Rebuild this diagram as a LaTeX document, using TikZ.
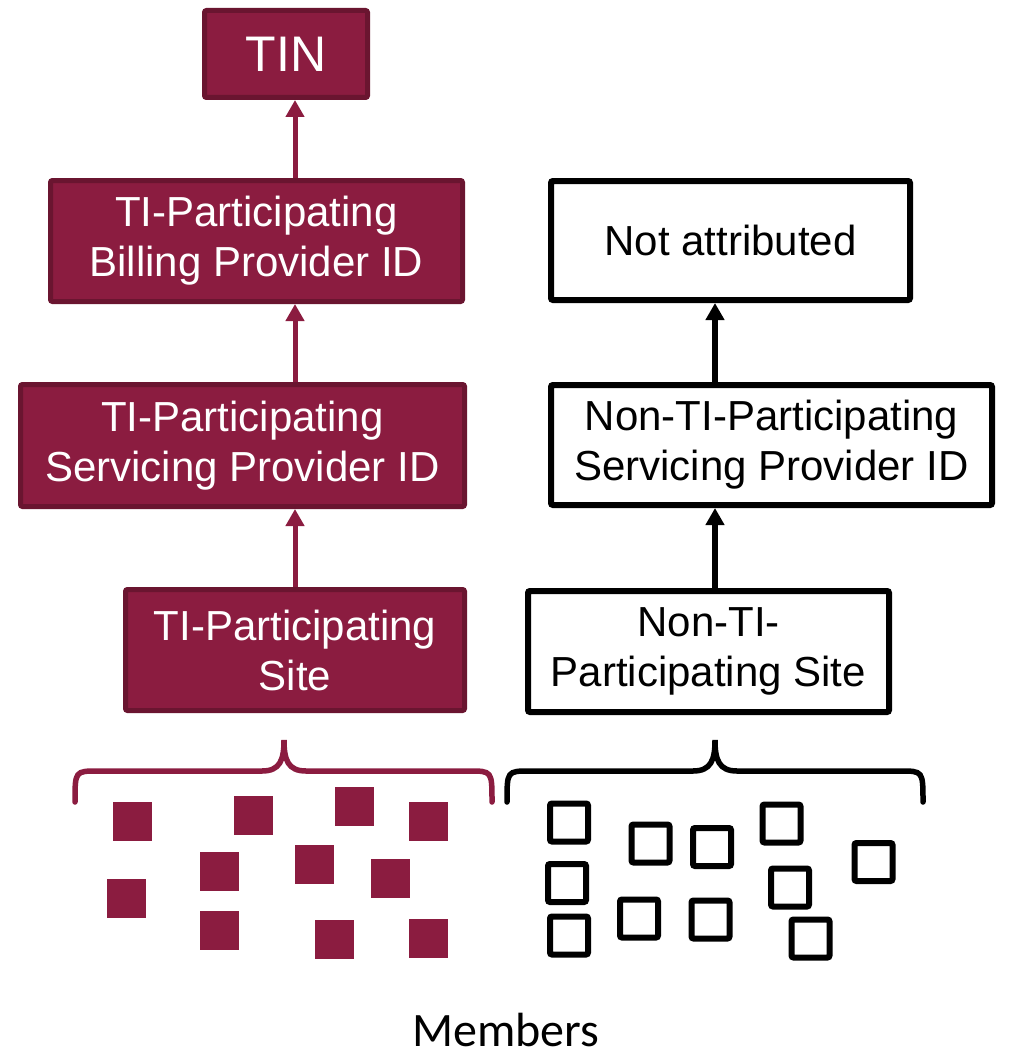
\documentclass[tikz,border=0pt]{standalone}
\usepackage{fontspec}
\setmainfont{Liberation Sans}
\newfontfamily\membersfont{Carlito}
\usetikzlibrary{arrows.meta}
\definecolor{tired}{HTML}{8B1C40}
\definecolor{tiredline}{HTML}{6A1530}

\begin{document}
\begin{tikzpicture}[x=0.5pt,y=-0.5pt,
    tibox/.style={draw=tiredline,fill=tired,text=white,line width=2.5pt,rounded corners=1pt,align=center,inner sep=0pt},
    nontibox/.style={draw=black,fill=white,line width=3pt,rounded corners=1pt,align=center,inner sep=0pt},
    tiarrow/.style={draw=tired,line width=2.5pt,-{Triangle[width=9pt,length=8.5pt]}},
    nontiarrow/.style={draw=black,line width=2.75pt,-{Triangle[width=9pt,length=8.5pt]}},
    brace/.style={line width=2.75pt,line cap=round}]
    \providecommand{\boxfontsize}{\fontsize{21pt}{25pt}\selectfont}
    \providecommand{\tinfontsize}{\fontsize{25pt}{30pt}\selectfont}
    \providecommand{\membersfontsize}{\fontsize{24pt}{28pt}\selectfont}
    \useasboundingbox (0,0) rectangle (1010,1054);
    % TI side
    \node[tibox,minimum width=81.5pt,minimum height=43.5pt,font=\tinfontsize] (tin) at (286,54) {TIN};
    \node[tibox,minimum width=206pt,minimum height=60.5pt,font=\boxfontsize] (bill) at (256.5,241) {TI-Participating\\Billing Provider ID};
    \node[tibox,minimum width=222pt,minimum height=61pt,font=\boxfontsize] (serv) at (242.5,445.5) {TI-Participating\\Servicing Provider ID};
    \node[tibox,minimum width=169.5pt,minimum height=60.5pt,font=\boxfontsize] (site) at (295,650) {TI-Participating\\Site};
    \draw[tiarrow] (site.north) -- (site.north |- serv.south);
    \draw[tiarrow] (site.north |- serv.north) -- (site.north |- bill.south);
    \draw[tiarrow] (site.north |- bill.north) -- (site.north |- tin.south);
    % non-TI side
    \node[nontibox,minimum width=179.5pt,minimum height=59.5pt,font=\boxfontsize] (notattr) at (730.5,240.5) {Not attributed};
    \node[nontibox,minimum width=220.5pt,minimum height=60pt,font=\boxfontsize] (nserv) at (771.5,445) {Non-TI-Participating\\Servicing Provider ID};
    \node[nontibox,minimum width=180.5pt,minimum height=60.5pt,font=\boxfontsize] (nsite) at (708.5,651.5) {Non-TI-\\Participating Site};
    \coordinate (nup) at ([xshift=3.25pt]nsite.north);
    \draw[nontiarrow] (nup) -- (nup |- nserv.south);
    \draw[nontiarrow] (nup |- nserv.north) -- (nup |- notattr.south);
    % braces
    \draw[brace,tired] (75,802) .. controls (75,771) .. (98,771) -- (262,771)
        .. controls (280,771) and (284,760) .. (284,740)
        .. controls (284,760) and (288,771) .. (306,771) -- (469,771)
        .. controls (492,771) .. (492,802);
    \draw[brace,black] (507,802) .. controls (507,771) .. (530,771) -- (693,771)
        .. controls (711,771) and (715,760) .. (715,740)
        .. controls (715,760) and (719,771) .. (737,771) -- (900,771)
        .. controls (923,771) .. (923,802);
    % members
    \foreach \x/\y in {132.5/821, 253.5/815.5, 354.5/806.5, 428.5/821, 126/898, 219.5/871.5,
        314.5/864, 390.5/878.5, 219.5/930.5, 334/939, 428.5/938}
        \fill[tired] ({\x-19.5},{\y-19.5}) rectangle +(39,39);
    \foreach \x/\y in {569/822.5, 650.5/843.5, 712/847, 781.5/823.5, 873.5/862, 567/883,
        790/887.5, 639/918.5, 710.5/919.5, 569/935.5, 810.5/938.5}
        \draw[line width=3pt,rounded corners=1pt] ({\x-19},{\y-19}) rectangle +(38,38);
    \node[font=\membersfont\membersfontsize,anchor=base,inner sep=0pt,text depth=0pt] (members) at (506,1046) {Members};
\end{tikzpicture}
\end{document}
